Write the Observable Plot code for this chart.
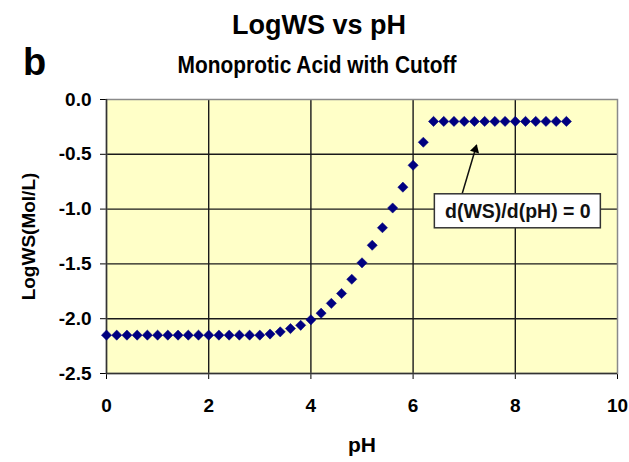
<!DOCTYPE html>
<html><head><meta charset="utf-8">
<script src="https://cdn.jsdelivr.net/npm/d3@7"></script>
<script src="https://cdn.jsdelivr.net/npm/@observablehq/plot@0.6"></script>
<style>
body{margin:0;background:#fff;}
#wrap{position:relative;width:629px;height:462px;font-family:Arial,"Liberation Sans",sans-serif;font-weight:bold;color:#000;}
.t{position:absolute;white-space:nowrap;line-height:1;}
#chart{position:absolute;left:0;top:0;}
</style></head><body>
<div id="wrap">
<div id="chart"></div>
<div class="t" style="left:0;width:638px;text-align:center;top:12px;font-size:27px;">LogWS vs pH</div>
<div class="t" style="left:23px;top:43px;font-size:38px;">b</div>
<div class="t" style="left:0;width:634px;text-align:center;top:53px;font-size:24px;transform:scaleX(0.87);transform-origin:317px 0;">Monoprotic Acid with Cutoff</div>
<div class="t" style="left:262px;width:200px;text-align:center;top:434px;font-size:21px;">pH</div>
<div class="t" style="left:-72px;width:200px;text-align:center;top:227px;font-size:19px;transform:rotate(-90deg);">LogWS(Mol/L)</div>
</div>
<script>
const pH = [0,0.2,0.4,0.6,0.8,1.0,1.2,1.4,1.6,1.8,2.0,2.2,2.4,2.6,2.8,3.0,
  3.2,3.4,3.6,3.8,4.0,4.2,4.4,4.6,4.8,5.0,5.2,5.4,5.6,5.8,6.0,6.2,
  6.4,6.6,6.8,7.0,7.2,7.4,7.6,7.8,8.0,8.2,8.4,8.6,8.8,9.0];
const logWS = [-2.15,-2.15,-2.15,-2.15,-2.15,-2.15,-2.15,-2.15,-2.15,-2.15,-2.15,-2.15,-2.15,-2.15,-2.15,-2.15,
  -2.14,-2.12,-2.09,-2.06,-2.01,-1.95,-1.86,-1.77,-1.64,-1.49,-1.33,-1.17,-0.99,-0.80,-0.60,-0.39,
  -0.20,-0.20,-0.20,-0.20,-0.20,-0.20,-0.20,-0.20,-0.20,-0.20,-0.20,-0.20,-0.20,-0.20];
const xTicks = [0,2,4,6,8,10];
const yTicks = [0,-0.5,-1.0,-1.5,-2.0,-2.5];
const noteLabel = ["d(WS)/d(pH) = 0"];
const noteX = [8.05];
const noteY = [-1.02];
const arrowFrom = [6.96, -0.86];
const arrowTo = [7.24, -0.42];

const data = pH.map((x, i) => ({pH: x, logWS: logWS[i]}));
const notes = noteLabel.map((t, i) => ({text: t, x: noteX[i], y: noteY[i]}));
const arrows = [{x1: arrowFrom[0], y1: arrowFrom[1], x2: arrowTo[0], y2: arrowTo[1]}];
const innerY = yTicks.filter(v => v !== 0 && v !== -2.5);
const innerX = xTicks.filter(v => v !== 0 && v !== 10);

const chart = Plot.plot({
  width: 629, height: 462,
  marginLeft: 106, marginRight: 12, marginTop: 99, marginBottom: 89,
  style: {fontFamily: "Arial, 'Liberation Sans', sans-serif", fontSize: "19px", fontWeight: "bold", color: "#000", background: "transparent", overflow: "visible"},
  x: {domain: [0, 10], ticks: xTicks, tickFormat: d => String(d), tickSize: 6, tickPadding: 19, label: null},
  y: {domain: [-2.5, 0], ticks: yTicks, tickFormat: d => d.toFixed(1), tickSize: 6, tickPadding: 9, label: null},
  marks: [
    Plot.frame({fill: "#FFFFC8"}),
    Plot.ruleY(innerY, {stroke: "#1a1a1a", strokeWidth: 1.4}),
    Plot.ruleX(innerX, {stroke: "#1a1a1a", strokeWidth: 1.4}),
    Plot.frame({stroke: "#8a8a8a", strokeWidth: 1.5}),
    Plot.ruleX([0], {stroke: "#333", strokeWidth: 1.5}),
    Plot.ruleY([-2.5], {stroke: "#333", strokeWidth: 1.5}),
    Plot.dot(data, {x: "pH", y: "logWS", symbol: "diamond2", r: 4.6, fill: "#000080", stroke: "#000080", strokeWidth: 0.5}),
    Plot.arrow(arrows, {x1: "x1", y1: "y1", x2: "x2", y2: "y2", stroke: "#111", strokeWidth: 1.5, headLength: 0}),
    Plot.dot(arrows, {x: "x2", y: "y2", symbol: "triangle2", r: 4.5, fill: "#000", rotate: 16, dx: -1.2, dy: 4}),
    Plot.rect(notes, {x1: "x", x2: "x", y1: "y", y2: "y", insetLeft: -83, insetRight: -83, insetTop: -17, insetBottom: -17, fill: "#fff", stroke: "#333", strokeWidth: 1.5}),
    Plot.text(notes, {x: "x", y: "y", text: "text", fontSize: 19.5, fontWeight: "bold", fill: "#111"})
  ]
});
document.getElementById("chart").appendChild(chart);
</script>
</body></html>
